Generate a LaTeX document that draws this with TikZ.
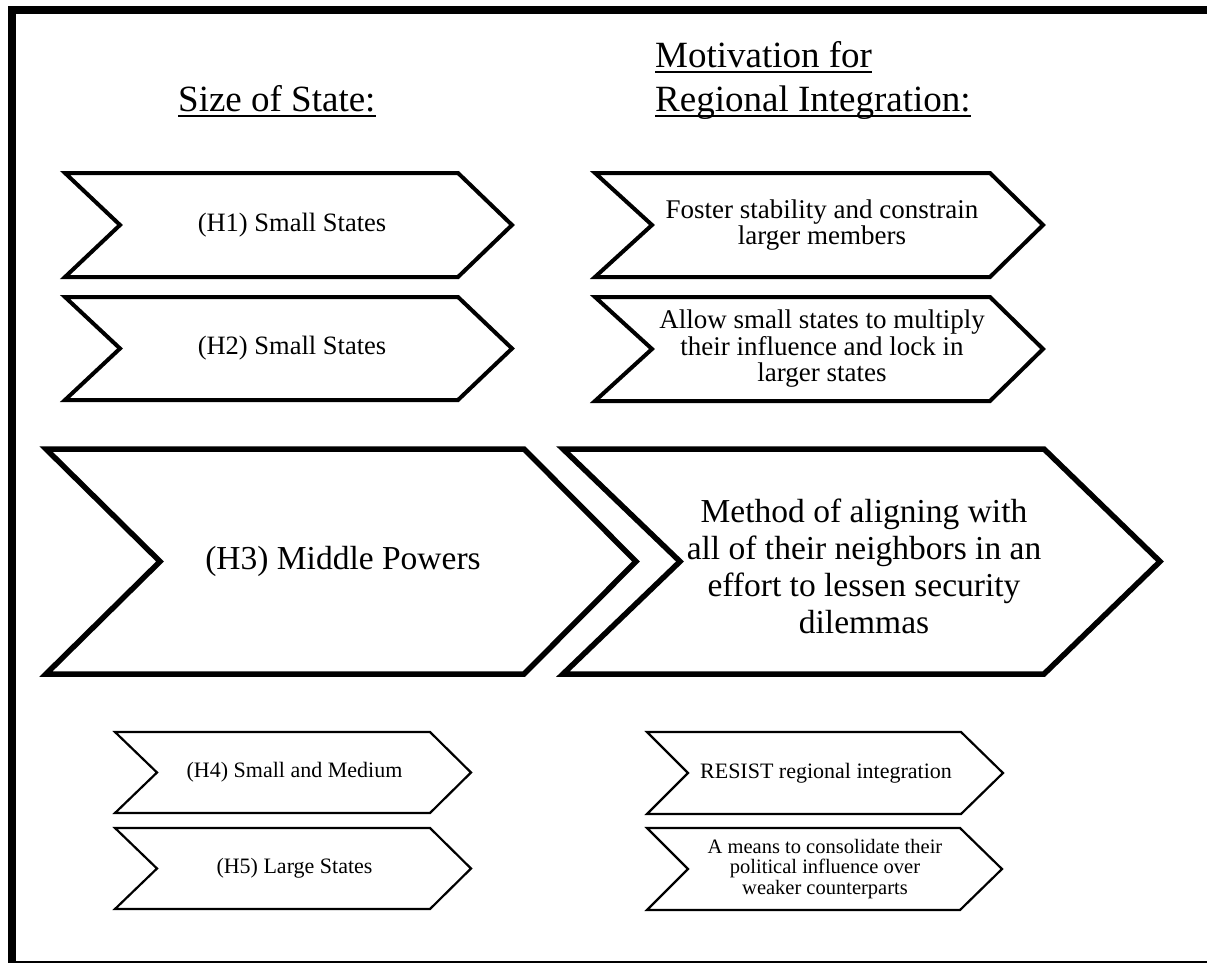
\documentclass[tikz,border=0pt]{standalone}
\usepackage{fontspec}
\setmainfont{Liberation Serif}
\usepackage{tikz}

\begin{document}
\begin{tikzpicture}[x=1pt, y=-1pt,
  chev/.style={draw=black, line width=4pt, line join=miter},
  chevbig/.style={chev, line width=5.5pt},
  chevsmall/.style={chev, line width=2.2pt},
  head/.style={anchor=base west, inner sep=0pt, font=\fontsize{37}{40}\selectfont},
  uline/.style={line width=1.8pt},
  lbl/.style={align=center, inner sep=0pt, font=\fontsize{26.5}{26}\selectfont},
  lblwide/.style={lbl, font=\fontsize{27}{26.5}\selectfont},
  lblbig/.style={lbl, font=\fontsize{33.5}{37}\selectfont},
  lblsmall/.style={lbl, font=\fontsize{22}{21}\selectfont},
  lbltiny/.style={lbl, font=\fontsize{20.5}{20.5}\selectfont},
]
  \useasboundingbox (0,0) rectangle (1207,963);
  % frame
  \fill (8,6) rectangle (1207,14);
  \fill (8,6) rectangle (16,963);
  \draw[line width=1.3pt] (8,962) -- (1207,962);

  % column heads
  \node[head] (size) at (178,112) {Size of State:};
  \node[head] (mot) at (655,68) {Motivation for};
  \node[head] (reg) at (655,112) {Regional Integration:};
  \draw[uline] ([yshift=-4pt]size.base west) -- ([yshift=-4pt]size.base east);
  \draw[uline] ([yshift=-4pt]mot.base west) -- ([yshift=-4pt]mot.base east);
  \draw[uline] ([yshift=-4pt]reg.base west) -- ([yshift=-4pt]reg.base east);

  % left column
  \draw[chev] (65,173) -- (458,173) -- (512,225) -- (458,277) -- (65,277) -- (120,225) -- cycle;
  \draw[chev] (65,297) -- (458,297) -- (512,348.5) -- (458,400) -- (65,400) -- (120,348.5) -- cycle;
  \draw[chevbig] (46,449) -- (524,449) -- (636,561.5) -- (524,674) -- (46,674) -- (160,561.5) -- cycle;
  \draw[chevsmall] (115,732) -- (430,732) -- (471,772.5) -- (430,813) -- (115,813) -- (157,772.5) -- cycle;
  \draw[chevsmall] (115,828) -- (430,828) -- (471,868.5) -- (430,909) -- (115,909) -- (157,868.5) -- cycle;
  \node[lbl] (h1) at (292,225) {(H1) Small States};
  \node[lbl] (h2) at (292,348.5) {(H2) Small States};
  \node[lblbig] (h3) at (343,561.5) {(H3) Middle Powers};
  \node[lblsmall] (h4) at (294.5,772.5) {(H4) Small and Medium};
  \node[lblsmall] (h5) at (294.5,868.5) {(H5) Large States};

  % right column
  \draw[chev] (595,173) -- (990,173) -- (1043,225) -- (990,277) -- (595,277) -- (652,225) -- cycle;
  \draw[chev] (595,297) -- (990,297) -- (1043,349) -- (990,401) -- (595,401) -- (652,349) -- cycle;
  \draw[chevbig] (563,449) -- (1044,449) -- (1160,561.5) -- (1044,674) -- (563,674) -- (680,561.5) -- cycle;
  \draw[chevsmall] (647,732) -- (961,732) -- (1003,773) -- (961,814) -- (647,814) -- (688,773) -- cycle;
  \draw[chevsmall] (647,828) -- (960,828) -- (1002,869) -- (960,910) -- (647,910) -- (688,869) -- cycle;
  \node[lblwide] (m1) at (822,225) {Foster stability and constrain\\larger members};
  \node[lblwide] (m2) at (822,349) {Allow small states to multiply\\their influence and lock in\\larger states};
  \node[lblbig] (m3) at (864,566) {Method of aligning with\\all of their neighbors in an\\effort to lessen security\\dilemmas};
  \node[lblsmall] (m4) at (826,773) {RESIST regional integration};
  \node[lbltiny] (m5) at (825,869) {A means to consolidate their\\political influence over\\weaker counterparts};
\end{tikzpicture}
\end{document}
